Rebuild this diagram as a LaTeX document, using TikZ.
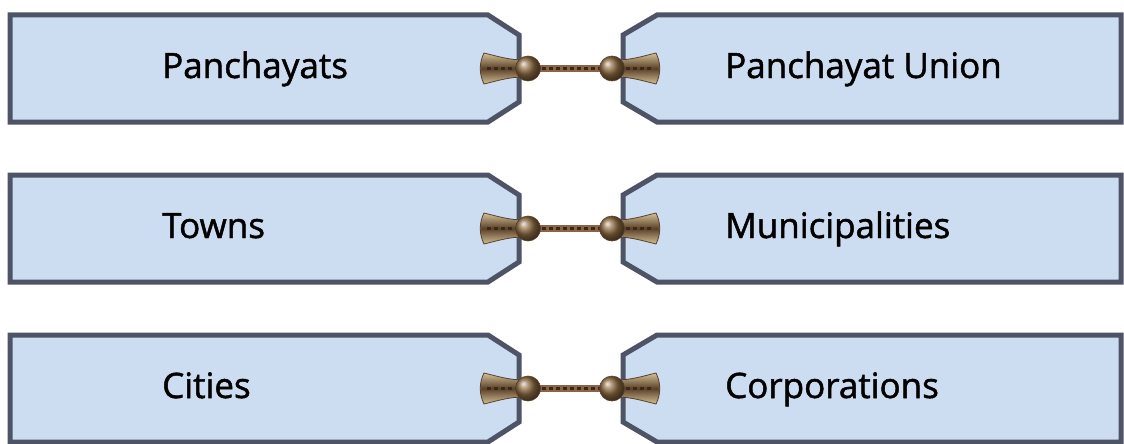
\documentclass[tikz,border=0pt]{standalone}
\usepackage{fontspec}
\setmainfont{Open Sans}
\newfontfamily\lblfont{Open Sans}[FakeBold=1.4]
\definecolor{boxfill}{HTML}{CCDCF1}
\definecolor{boxedge}{HTML}{4E5466}
\definecolor{bronze}{HTML}{8C6A40}
\definecolor{bronzelight}{HTML}{D2C096}
\definecolor{bronzedark}{HTML}{5A4028}
\definecolor{ropecol}{HTML}{8A6446}
\definecolor{ropedark}{HTML}{3C2818}
\begin{document}
\begin{tikzpicture}[x=1pt,y=-1pt,
  box/.style={draw=boxedge, line width=5pt, fill=boxfill, line join=miter},
  lbl/.style={anchor=base west, font=\lblfont\fontsize{35}{40}\selectfont, text=black, inner sep=0pt},
  bell/.style={draw=bronzedark, line width=0.8pt, top color=bronzelight, bottom color=bronzelight, middle color=bronzedark},
  rope/.style={line width=7pt, draw=ropecol},
  ropedash/.style={line width=2.5pt, draw=ropedark, dash pattern=on 4pt off 3pt},
  ball/.style={circle, minimum size=25pt, inner sep=0pt, ball color=bronze, draw=bronzedark, line width=0.6pt}]
\useasboundingbox (0,0) rectangle (1124,444);
\fill[white] (0,0) rectangle (1124,444);
\foreach \i/\t/\a/\b in {1/0/Panchayats/Panchayat Union, 2/160/Towns/Municipalities, 3/320/Cities/Corporations}{
  % boxes
  \draw[box] (10,{15+\t}) -- (488,{15+\t}) -- (519,{35+\t}) -- (519,{102+\t}) -- (488,{122+\t}) -- (10,{122+\t}) -- cycle;
  \draw[box] (1121,{15+\t}) -- (657,{15+\t}) -- (623,{35+\t}) -- (623,{102+\t}) -- (657,{122+\t}) -- (1121,{122+\t}) -- cycle;
  \node[lbl] (L\i) at (162,{78+\t}) {\a};
  \node[lbl] (R\i) at (725,{78+\t}) {\b};
  % bells
  \draw[bell] (484,{53+\t}) .. controls (500,{57+\t}) and (510,{60+\t}) .. (524,{60+\t}) -- (524,{77+\t}) .. controls (510,{77+\t}) and (500,{80+\t}) .. (484,{84+\t}) .. controls (479,{74+\t}) and (479,{63+\t}) .. (484,{53+\t}) -- cycle;
  \draw[bell] (656,{53+\t}) .. controls (640,{57+\t}) and (630,{60+\t}) .. (616,{60+\t}) -- (616,{77+\t}) .. controls (630,{77+\t}) and (640,{80+\t}) .. (656,{84+\t}) .. controls (661,{74+\t}) and (661,{63+\t}) .. (656,{53+\t}) -- cycle;
  \coordinate (BL\i) at (487,{68.5+\t});
  \coordinate (BR\i) at (653,{68.5+\t});
  \coordinate (cL\i) at (528,{68.5+\t});
  \coordinate (cR\i) at (612,{68.5+\t});
  \draw[ropedash] (BL\i) -- (cL\i);
  \draw[ropedash] (cR\i) -- (BR\i);
  \draw[rope] (cL\i) -- (cR\i);
  \draw[ropedash] (cL\i) -- (cR\i);
  \node[ball] (KL\i) at (cL\i) {};
  \node[ball] (KR\i) at (cR\i) {};
}
\end{tikzpicture}
\end{document}
